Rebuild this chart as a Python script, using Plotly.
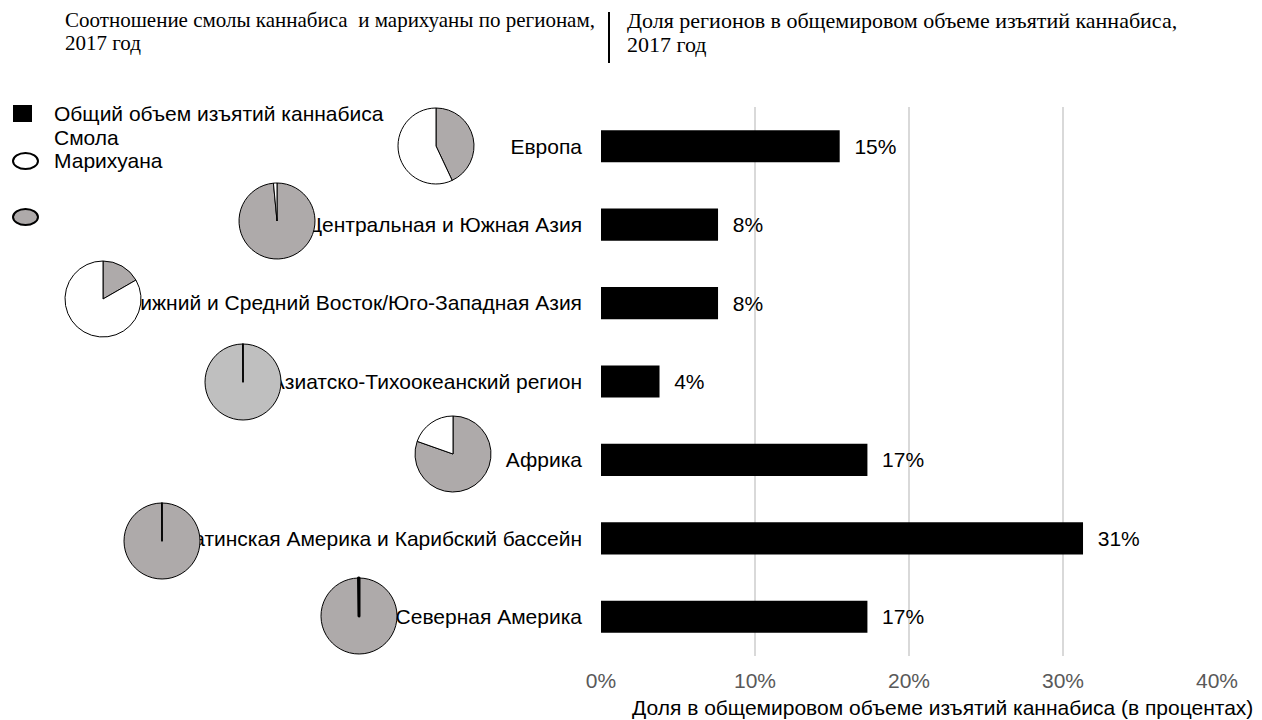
import plotly.graph_objects as go

# ---------------- data ----------------
regions = [
    "Европа",
    "Центральная и Южная Азия",
    "Ближний и Средний Восток/Юго-Западная Азия",
    "Азиатско-Тихоокеанский регион",
    "Африка",
    "Латинская Америка и Карибский бассейн",
    "Северная Америка",
]
share_pct = [15.5, 7.6, 7.6, 3.8, 17.3, 31.3, 17.3]
share_labels = ["15%", "8%", "8%", "4%", "17%", "31%", "17%"]
herb_pct = [43.0, 98.5, 16.7, 99.9, 80.4, 99.9, 99.8]   # grey (Марихуана)
resin_pct = [57.0, 1.5, 83.3, 0.1, 19.6, 0.1, 0.2]      # white (Смола)
x_tickvals = [0, 10, 20, 30, 40]
x_ticktext = ["0%", "10%", "20%", "30%", "40%"]

# ---------------- layout config ----------------
W, H = 1262, 720
pie_centers = [(436, 146), (277, 221), (103, 299), (243, 382), (453, 454), (162, 541), (359, 616)]
pie_r = 38
pie_grey = ["#AEAAAA", "#AEAAAA", "#AEAAAA", "#BFBFBF", "#AEAAAA", "#AEAAAA", "#AEAAAA"]
pie_resin_line = [1, 1, 1, 1.5, 1, 1.5, 3]
SANS = "Liberation Sans, Arial, sans-serif"
SERIF = "Liberation Serif, Times New Roman, serif"
FS = 21

def px(x):
    return x / W

def py(y):
    return 1 - y / H

fig = go.Figure()
fig.add_trace(go.Bar(
    y=regions, x=share_pct, orientation="h",
    marker=dict(color="black", line=dict(width=0)),
    width=0.41,
    text=["\u00a0\u00a0" + s for s in share_labels],
    textposition="outside", textfont=dict(size=FS, color="black", family=SANS),
    cliponaxis=False, showlegend=False, hoverinfo="x+y",
))

for i, reg in enumerate(regions):
    cx, cy = pie_centers[i]
    fig.add_trace(go.Pie(
        values=[herb_pct[i], resin_pct[i]],
        labels=["Марихуана", "Смола"],
        marker=dict(colors=[pie_grey[i], "white"],
                    line=dict(color="black", width=[1, pie_resin_line[i]])),
        sort=False, direction="clockwise", rotation=0,
        textinfo="none", showlegend=False, name=reg,
        domain=dict(x=[px(cx - pie_r), px(cx + pie_r)], y=[py(cy + pie_r), py(cy - pie_r)]),
    ))

fig.update_layout(
    width=W, height=H,
    margin=dict(l=0, r=0, t=0, b=0),
    paper_bgcolor="white", plot_bgcolor="white",
    font=dict(family=SANS, size=FS, color="black"),
    xaxis=dict(
        domain=[px(601), px(1217)], range=[0, 40],
        tickvals=x_tickvals, ticktext=x_ticktext,
        tickfont=dict(size=FS, color="#595959", family=SANS),
        showgrid=True, gridcolor="#D9D9D9", gridwidth=2,
        zeroline=False, showline=False, ticks="", ticklabelstandoff=10,
        automargin=False, fixedrange=True,
    ),
    yaxis=dict(
        domain=[py(656), py(107)],
        categoryorder="array", categoryarray=regions, autorange="reversed",
        tickfont=dict(size=FS, color="black", family=SANS),
        showgrid=False, zeroline=False, showline=False, ticks="",
        ticklabelstandoff=18, automargin=False, fixedrange=True,
    ),
)

shapes = [
    dict(type="line", xref="paper", yref="paper", x0=px(609), x1=px(609), y0=py(12), y1=py(63),
         line=dict(color="black", width=2)),
    dict(type="rect", xref="paper", yref="paper", x0=px(13), x1=px(32), y0=py(122), y1=py(105),
         fillcolor="black", line=dict(width=0)),
    dict(type="circle", xref="paper", yref="paper", x0=px(13), x1=px(38), y0=py(169), y1=py(153),
         fillcolor="white", line=dict(color="black", width=2)),
    dict(type="circle", xref="paper", yref="paper", x0=px(13), x1=px(38), y0=py(225), y1=py(209),
         fillcolor="#AEAAAA", line=dict(color="black", width=2)),
]

def txt(s, x, y, size=FS, family=SANS, anchor="left"):
    return dict(text=s, xref="paper", yref="paper", x=px(x), y=py(y), xanchor=anchor,
                yanchor="middle", showarrow=False, font=dict(family=family, size=size, color="black"))

annotations = [
    txt("Соотношение смолы каннабиса  и марихуаны по регионам,", 63, 20, 21, SERIF),
    txt("2017 год", 63, 43, 21, SERIF),
    txt("Доля регионов в общемировом объеме изъятий каннабиса,", 625, 20, 22, SERIF),
    txt("2017 год", 625, 44, 22, SERIF),
    txt("Общий объем изъятий каннабиса", 52, 113),
    txt("Смола", 52, 137),
    txt("Марихуана", 52, 160),
    txt("Доля в общемировом объеме изъятий каннабиса (в процентах)", 1255, 707, anchor="right"),
]

fig.update_layout(shapes=shapes, annotations=annotations)
fig.write_html("out.html", config={"displayModeBar": False},
               post_script="document.body.style.margin='0';document.body.style.padding='0';")
